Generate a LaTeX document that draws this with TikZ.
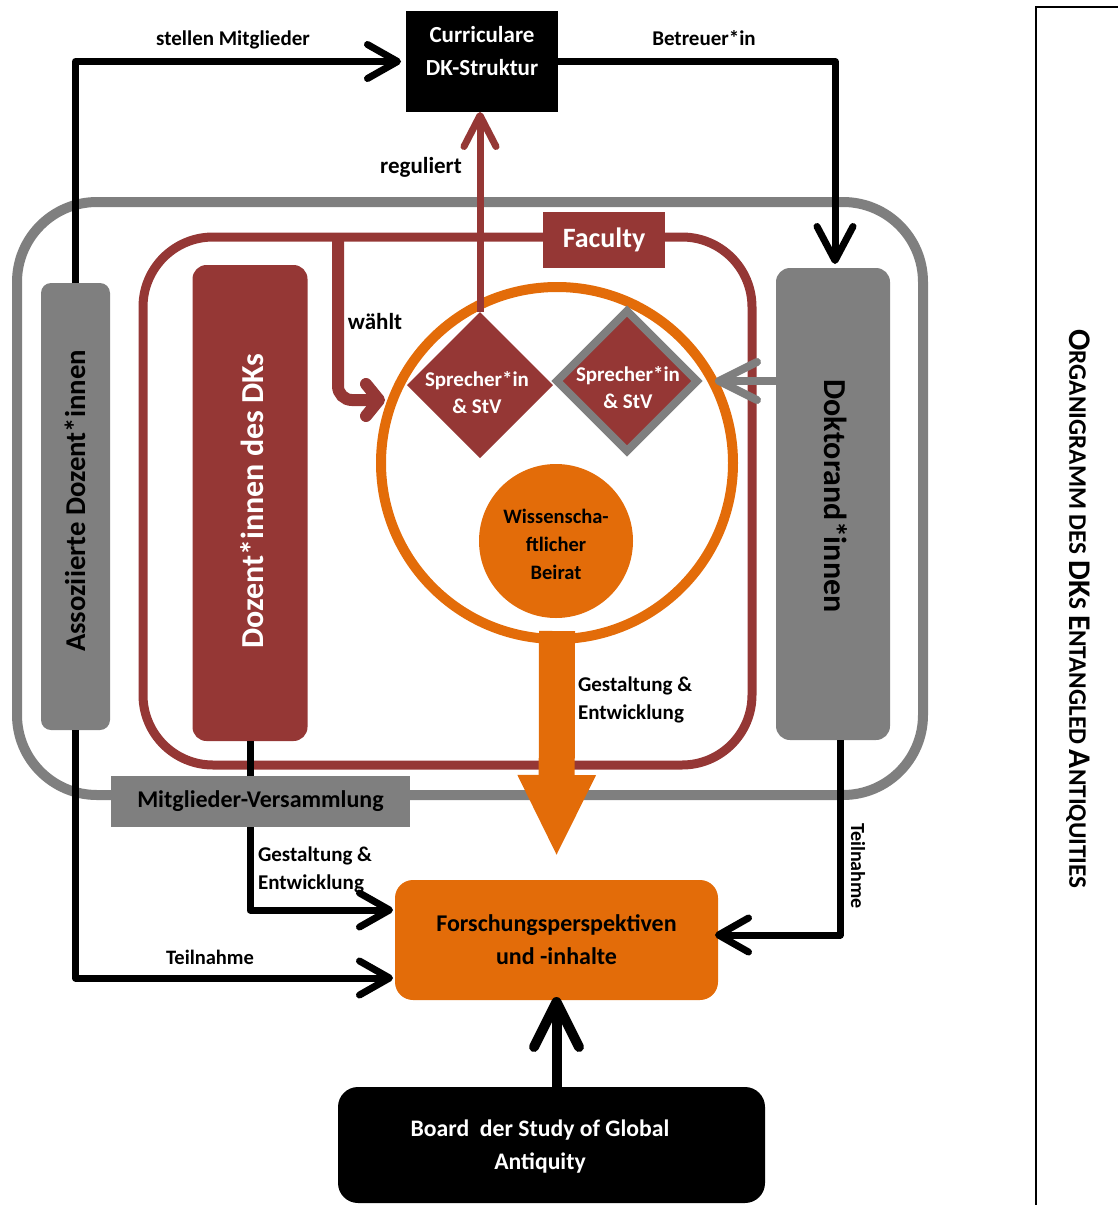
\documentclass[tikz,border=0pt]{standalone}
\usepackage{fontspec}
\setmainfont{Carlito}
\usetikzlibrary{arrows.meta,shapes.geometric,calc}
\definecolor{dkred}{HTML}{953735}
\definecolor{dkgray}{HTML}{7F7F7F}
\definecolor{dkorange}{HTML}{E36C09}
\newcommand\fsz[2]{\fontsize{#1}{#2}\selectfont\bfseries}
\newcommand\capL[1]{{\fontsize{31.5}{32}\selectfont #1}}
\newcommand\capS[1]{{\fontsize{25.2}{26}\selectfont #1}}
\begin{document}
\begin{tikzpicture}[x=1pt,y=-1pt,
  every node/.style={inner sep=0pt, outer sep=0pt},
  conn/.style={line width=7pt, line join=round},
  tipA/.style={-{Straight Barb[length=30pt,width=34pt,round]}},
  tipB/.style={-{Straight Barb[length=34pt,width=36pt,round]}},
  tipC/.style={-{Straight Barb[length=45pt,width=45pt,round]}},
  lbl/.style={font=\fsz{21}{28}, align=left},
]
\useasboundingbox (0,0) rectangle (1117,1205);

% frame on the right
\draw[line width=2.5pt] (1125,7) -- (1036,7) -- (1036,1215);

% containers
\draw[dkgray, line width=10pt, rounded corners=80pt] (17,202) rectangle (923,795);
\draw[dkred, line width=9pt, rounded corners=70pt] (143,237) rectangle (752,765);

% nodes
\node[fill=dkred, minimum width=122pt, minimum height=56pt, text=white, font=\fsz{28}{30}] (fac) at (604,240) {Faculty};
\node[fill=dkgray, rounded corners=10pt, minimum width=69pt, minimum height=447pt] (assoc) at (75.5,506.5) {};
\node[fill=dkred, rounded corners=14pt, minimum width=115pt, minimum height=476pt] (doz) at (250,503) {};
\node[fill=dkgray, rounded corners=14pt, minimum width=114pt, minimum height=472pt] (dokt) at (833,504) {};
\node[rotate=90, font=\fsz{28.7}{30}] (assoctext) at (75,501) {Assoziierte Dozent*innen};
\node[rotate=90, font=\fsz{32}{34}, text=white] (doztext) at (252,501) {Dozent*innen des DKs};
\node[rotate=-90, font=\fsz{32}{34}] (dokttext) at (836,496) {Doktorand*innen};

\node[fill=black, minimum width=152pt, minimum height=101pt] (cur) at (482,61.5) {};
\node[text=white, font=\fsz{23}{33}, align=center] (curtext) at (482,51) {Curriculare\\DK-Struktur};

\node[fill=dkorange, rounded corners=18pt, minimum width=323pt, minimum height=120pt, font=\fsz{24}{33}, align=center] (forsch) at (556.5,940) {Forschungsperspektiven\\und -inhalte};

\node[fill=black, rounded corners=20pt, minimum width=427pt, minimum height=116pt] (board) at (551.5,1145) {};
\node[text=white, font=\fsz{23.7}{33}, align=center] (boardtext) at (540,1147) {Board~ der Study of Global\\Antiquity};

% black connectors
\draw[conn, tipA, shorten >=5pt] (assoc.north) |- (cur.west);
\draw[conn, tipB, shorten >=4pt] (cur.east) -| ([xshift=2pt]dokt.north);
\draw[conn, tipA, shorten >=2pt] (assoc.south) |- ($(forsch.west)+(0,38)$);
\draw[conn, tipA, shorten >=2pt] (doz.south) |- ($(forsch.west)+(0,-30)$);
\draw[conn, tipA, shorten >=-3pt] ([xshift=7pt]dokt.south) |- ($(forsch.east)+(0,-5)$);
\draw[line width=10pt, tipC, shorten >=-3pt] (forsch.south |- board.north) -- (forsch.south);

% Mitglieder-Versammlung
\node[fill=dkgray, minimum width=299pt, minimum height=51pt, font=\fsz{24}{26}] (mv) at (260.5,801.5) {Mitglieder-Versammlung};

% orange ring and Beirat
\node[circle, draw=dkorange, line width=10pt, minimum size=352pt] (ring) at (557,463) {};
\node[circle, fill=dkorange, minimum size=154pt] (beirat) at (556,541) {};
\node[font=\fsz{20.5}{28}, align=center] (beirattext) at (556,544) {Wissenscha-\\ftlicher\\Beirat};

% diamonds
\node[diamond, fill=dkred, minimum width=146pt, minimum height=146pt] (diaL) at (480,385) {};
\node[diamond, fill=dkred, draw=dkgray, line width=8pt, minimum width=140pt, minimum height=140pt] (diaR) at (627,381) {};
\node[text=white, font=\fsz{21}{27}, align=center] (diaLtext) at (477,393) {Sprecher*in\\\& StV};
\node[text=white, font=\fsz{21}{27}, align=center] (diaRtext) at (628,388) {Sprecher*in\\\& StV};

% red connectors
\coordinate (wtop) at (338,237);
\coordinate (wend) at (385,400);
\draw[dkred, line width=12pt, rounded corners=14pt, -{Straight Barb[length=13pt,width=32pt,round]}] (wtop) |- (wend);
\draw[dkred, line width=7pt, -{Straight Barb[length=31pt,width=32pt,round]}] (diaL.north) -- (diaL.north |- cur.south);

% gray arrow
\draw[dkgray, line width=8pt, -{Straight Barb[length=38pt,width=38pt,round]}, shorten >=18pt] (dokt.west |- diaR.east) -- (diaR.east);

% big orange arrow
\draw[dkorange, line width=36pt, -{Triangle[length=82pt,width=72pt]}, shorten >=23pt] ([yshift=8pt]ring.south) -- (forsch.north);

% labels
\node[lbl, font=\fsz{21}{28}] (l1) at (233,40) {stellen Mitglieder};
\node[lbl, font=\fsz{21}{28}] (l2) at (704,38) {Betreuer*in};
\node[lbl, font=\fsz{23}{28}] (l3) at (421,167) {reguliert};
\node[lbl, font=\fsz{23}{28}] (l4) at (375,322) {wählt};
\node[lbl, anchor=west] (l5) at (578,700) {Gestaltung \&\\Entwicklung};
\node[lbl, anchor=west] (l6) at (258,870) {Gestaltung \&\\Entwicklung};
\node[lbl, font=\fsz{20.5}{24}] (l7) at (210,957) {Teilnahme};
\node[lbl, font=\fsz{20}{24}, rotate=-90] (l8) at (858,866) {Teilnahme};

% title
\node[rotate=-90, font=\bfseries] (title) at (1078,609) {\capL{O}\capS{RGANIGRAMM DES }\capL{DK}\capS{S }\capL{E}\capS{NTANGLED }\capL{A}\capS{NTIQUITIES}};
\end{tikzpicture}
\end{document}
